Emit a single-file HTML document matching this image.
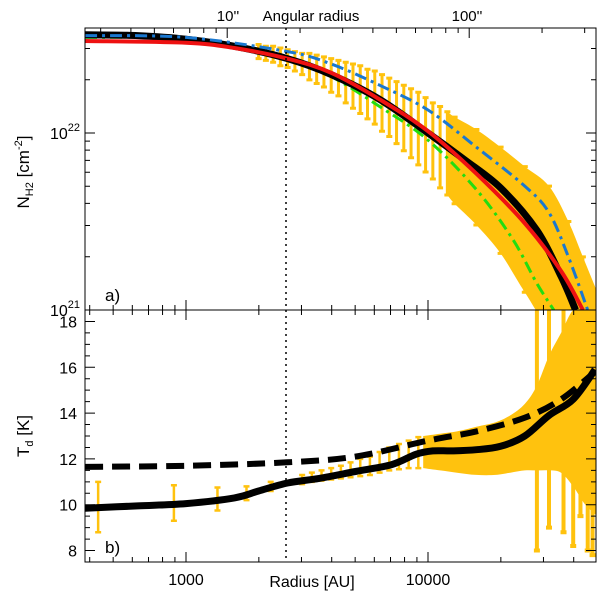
<!DOCTYPE html>
<html><head><meta charset="utf-8"><style>
html,body{margin:0;padding:0;background:#fff;}
svg{display:block;font-family:"Liberation Sans",sans-serif;}
</style></head><body>
<svg id="chart" width="600" height="598" viewBox="0 0 600 598" xmlns="http://www.w3.org/2000/svg">
<g id="layer"></g>
<text x="228" y="21" font-size="15" text-anchor="middle">10''</text>
<text x="311" y="21" font-size="15" text-anchor="middle">Angular radius</text>
<text x="467" y="21" font-size="15" text-anchor="middle">100''</text>
<text x="312" y="587" font-size="16" text-anchor="middle">Radius [AU]</text>
<text transform="translate(29,172) rotate(-90)" font-size="17" text-anchor="middle">N<tspan font-size="11" dy="4">H2</tspan><tspan dy="-4"> [cm</tspan><tspan font-size="11" dy="-7">-2</tspan><tspan dy="7">]</tspan></text>
<text transform="translate(29,436) rotate(-90)" font-size="17" text-anchor="middle">T<tspan font-size="11" dy="4">d</tspan><tspan dy="-4"> [K]</tspan></text>
<text x="105" y="301" font-size="17">a)</text>
<text x="105" y="553" font-size="17">b)</text>
</svg>
<script>
// ---- data ----
const colDensBlack = [[2.583,22.555],[2.8,22.55],[3.0,22.53],[3.2,22.49],[3.42,22.42],[3.6,22.33],[3.8,22.19],[4.0,22.0],[4.15,21.85],[4.3,21.69],[4.45,21.45],[4.55,21.19],[4.61,21.0]];
const colDensRed = [[2.583,22.52],[3.0,22.51],[3.2,22.48],[3.42,22.42],[3.6,22.34],[3.8,22.19],[4.0,22.01],[4.2,21.77],[4.4,21.49],[4.55,21.22],[4.64,21.0]];
const colDensBlue = [[2.583,22.55],[3.0,22.54],[3.42,22.46],[3.6,22.39],[3.8,22.27],[4.0,22.13],[4.2,21.92],[4.4,21.7],[4.5,21.55],[4.58,21.3],[4.66,21.0]];
const colDensGreen = [[2.583,22.54],[3.0,22.53],[3.42,22.43],[3.6,22.32],[3.8,22.15],[4.0,21.96],[4.2,21.68],[4.35,21.4],[4.45,21.15],[4.52,21.0]];
const errR = [3.30,3.33,3.36,3.39,3.42,3.45,3.48,3.51,3.54,3.57,3.60,3.63,3.66,3.69,3.72,3.75,3.78,3.81,3.84,3.87,3.90,3.93,3.96,3.99,4.02,4.05,4.08,4.11,4.20,4.30,4.40,4.50,4.58,4.64,4.70];
const errHi = [22.50,22.49,22.49,22.48,22.47,22.46,22.45,22.45,22.44,22.43,22.42,22.41,22.40,22.39,22.38,22.36,22.35,22.33,22.31,22.29,22.27,22.25,22.23,22.20,22.17,22.15,22.12,22.09,22.02,21.92,21.81,21.70,21.50,21.30,21.1];
const errLo = [22.42,22.41,22.40,22.38,22.37,22.35,22.33,22.30,22.28,22.26,22.23,22.21,22.17,22.14,22.11,22.08,22.05,22.01,21.98,21.94,21.90,21.86,21.82,21.78,21.74,21.69,21.65,21.60,21.48,21.32,21.10,20.9,20.9,20.9,20.9];
const tempSolid = [[2.583,9.85],[2.8,9.95],[3.0,10.05],[3.2,10.3],[3.3,10.6],[3.42,10.95],[3.55,11.15],[3.7,11.45],[3.85,11.75],[3.95,12.2],[4.02,12.35],[4.1,12.35],[4.2,12.4],[4.3,12.55],[4.4,13.0],[4.5,13.9],[4.6,14.6],[4.69,15.9]];
const tempModel = [[2.583,11.65],[3.0,11.7],[3.42,11.85],[3.7,12.1],[4.0,12.8],[4.2,13.2],[4.4,13.8],[4.55,14.6],[4.69,15.8]];
const tErrR = [2.637,2.95,3.13,3.25,3.35,3.48,3.52,3.56,3.60,3.64,3.68,3.72,3.76,3.80,3.84,3.88,3.92,3.96];
const tErrLo = [8.8,9.3,9.75,10.2,10.6,10.9,11.0,11.05,11.1,11.15,11.2,11.25,11.3,11.4,11.5,11.55,11.6,11.6];
const tErrHi = [11.0,10.85,10.75,10.8,11.0,11.3,11.4,11.5,11.6,11.7,11.85,12.0,12.1,12.3,12.5,12.65,12.8,12.95];
const tBandR = [3.98,4.05,4.12,4.2,4.28,4.34,4.40,4.45,4.50,4.55,4.60,4.65,4.70];
const tBandLo = [11.6,11.5,11.4,11.3,11.3,11.4,11.5,11.5,11.5,11.4,10.8,10.0,9.5];
const tBandHi = [13.0,13.1,13.2,13.4,13.6,13.9,14.4,15.2,16.5,17.5,18.5,18.5,18.5];
const tSpikeR = [4.45,4.50,4.56,4.60,4.63,4.66,4.68];
const tSpikeLo = [8.0,9.0,8.8,8.2,9.5,8.0,7.8];
const tSpikeHi = [18.5,18.5,18.5,18.2,18.5,18.5,18.5];
const xTickLabels = ["1000","10000"];
const xTickVals = [3,4];
const yTopTickVals = [21,22];
const yBotTickVals = [8,10,12,14,16,18];
// ---- axes ----
const L=85,R=596,T=28,M=310,B=562;
const xs = v => 186 + (v-3)*242;
const yTop = v => 133 - (v-22)*177;
const yBot = v => 562 - (v-7.5)*(252/11);
const NS="http://www.w3.org/2000/svg";
const layer=document.getElementById('layer');
function mk(tag,attrs){const e=document.createElementNS(NS,tag);for(const k in attrs)e.setAttribute(k,attrs[k]);layer.appendChild(e);return e;}
function smoothOf(pts,fy){
 const P=pts.map(p=>[xs(p[0]),fy(p[1])]);
 let d='M'+P[0][0].toFixed(1)+','+P[0][1].toFixed(1);
 for(let i=0;i<P.length-1;i++){
  const p0=P[Math.max(0,i-1)],p1=P[i],p2=P[i+1],p3=P[Math.min(P.length-1,i+2)];
  const c1=[p1[0]+(p2[0]-p0[0])/6,p1[1]+(p2[1]-p0[1])/6],c2=[p2[0]-(p3[0]-p1[0])/6,p2[1]-(p3[1]-p1[1])/6];
  d+=`C${c1[0].toFixed(1)},${c1[1].toFixed(1)} ${c2[0].toFixed(1)},${c2[1].toFixed(1)} ${p2[0].toFixed(1)},${p2[1].toFixed(1)}`;
 }
 return d;
}
const defs=mk('defs',{});
defs.innerHTML='<clipPath id="cTop"><rect x="85" y="28" width="511" height="282"/></clipPath><clipPath id="cBot"><rect x="85" y="310" width="511" height="252"/></clipPath>';
const gTop=mk('g',{'clip-path':'url(#cTop)'});


const gBot=mk('g',{'clip-path':'url(#cBot)'});


function add(g,tag,attrs){const e=document.createElementNS(NS,tag);for(const k in attrs)e.setAttribute(k,attrs[k]);g.appendChild(e);return e;}
const Y='#ffc20e';
{
 const up=[],dn=[];
 for(let i=0;i<errR.length;i++){ if(errR[i]>=4.08){up.push([errR[i],errHi[i]]);dn.unshift([errR[i],errLo[i]]);} }
 const band=add(gTop,'path',{d:smoothOf(up,yTop)+' L'+smoothOf(dn,yTop).slice(1)+'Z',fill:Y});
 
 
 for(let i=0;i<errR.length;i++){
  const x=xs(errR[i]),y1=yTop(errHi[i]),y2=yTop(errLo[i]);
  const b=add(gTop,'path',{d:`M${x},${y1}V${y2}M${x-3},${y1}h6M${x-3},${y2}h6`,stroke:Y,'stroke-width':3,fill:'none'});
  
  
 }
}
let e;
e=add(gTop,'path',{d:smoothOf(colDensGreen,yTop),stroke:'#22dd11',fill:'none','stroke-width':3,'stroke-dasharray':'12,5,3,5'});


e=add(gTop,'path',{d:smoothOf(colDensBlack,yTop),stroke:'#000',fill:'none','stroke-width':7});


e=add(gTop,'path',{d:smoothOf(colDensBlue,yTop),stroke:'#1a78d0',fill:'none','stroke-width':3,'stroke-dasharray':'12,5,3,5'});


e=add(gTop,'path',{d:smoothOf(colDensRed,yTop),stroke:'#ee1111',fill:'none','stroke-width':4});


{
 const up=[],dn=[];
 for(let i=0;i<tBandR.length;i++){up.push([tBandR[i],tBandHi[i]]);dn.unshift([tBandR[i],tBandLo[i]]);}
 const band=add(gBot,'path',{d:smoothOf(up,yBot)+' L'+smoothOf(dn,yBot).slice(1)+'Z',fill:Y});
 
 
}
for(let i=0;i<tErrR.length;i++){
 const x=xs(tErrR[i]),y1=yBot(tErrHi[i]),y2=yBot(tErrLo[i]);
 const b=add(gBot,'path',{d:`M${x},${y1}V${y2}M${x-3},${y1}h6M${x-3},${y2}h6`,stroke:Y,'stroke-width':2.5,fill:'none'});
 
 
}
for(let i=0;i<tSpikeR.length;i++){
 const x=xs(tSpikeR[i]),y1=yBot(tSpikeHi[i]),y2=yBot(tSpikeLo[i]);
 const b=add(gBot,'path',{d:`M${x},${y1}V${y2}M${x-3},${y2}h6`,stroke:Y,'stroke-width':4,fill:'none'});
 
 
}
e=add(gBot,'path',{d:smoothOf(tempModel,yBot),stroke:'#000',fill:'none','stroke-width':6,'stroke-dasharray':'18,9'});


e=add(gBot,'path',{d:smoothOf(tempSolid,yBot),stroke:'#000',fill:'none','stroke-width':7});


e=mk('line',{x1:286,x2:286,y1:T,y2:B,stroke:'#000','stroke-width':1.5,'stroke-dasharray':'2,4'});


e=mk('rect',{x:L,y:T,width:R-L,height:M-T,fill:'none',stroke:'#000','stroke-width':1});


e=mk('rect',{x:L,y:M,width:R-L,height:B-M,fill:'none',stroke:'#000','stroke-width':1});


let tk='';
for(let d=2;d<=4;d++)for(let m=1;m<10;m++){const v=d+Math.log10(m);const x=xs(v);if(x<=L||x>=R)continue;const len=m==1?10:5;
 tk+=`M${x},${B}v-${len}M${x},${M}v-${len}M${x},${M}v${len}`;}
const dlog=Math.log10(148);
for(let d=0;d<=2;d++)for(let m=1;m<10;m++){const v=d+Math.log10(m)+dlog;const x=xs(v);if(x<=L||x>=R)continue;const len=m==1?10:5;tk+=`M${x},${T}v${len}`;}
for(let d=21;d<=22;d++)for(let m=1;m<10;m++){const v=d+Math.log10(m);const y=yTop(v);if(y<T||y>M)continue;const len=m==1?10:5;tk+=`M${L},${y}h${len}M${R},${y}h-${len}`;}
for(let v=8;v<=18.01;v+=0.5){const y=yBot(v);const len=(v%2==0)?10:5;tk+=`M${L},${y}h${len}M${R},${y}h-${len}`;}
e=mk('path',{d:tk,stroke:'#000','stroke-width':1,fill:'none'});


xTickVals.forEach((v,i)=>{const t=mk('text',{x:xs(v),y:585,'font-size':16,'text-anchor':'middle'});t.textContent=xTickLabels[i];
 
 });
yTopTickVals.forEach(v=>{const t=mk('text',{x:80,y:yTop(v)+6,'font-size':16,'text-anchor':'end'});
 t.innerHTML='10<tspan font-size="11" dy="-8">'+v+'</tspan>';
 
 });
yBotTickVals.forEach(v=>{const t=mk('text',{x:77,y:yBot(v)+6,'font-size':16,'text-anchor':'end'});t.textContent=v;
 
 });
</script>
</body></html>
